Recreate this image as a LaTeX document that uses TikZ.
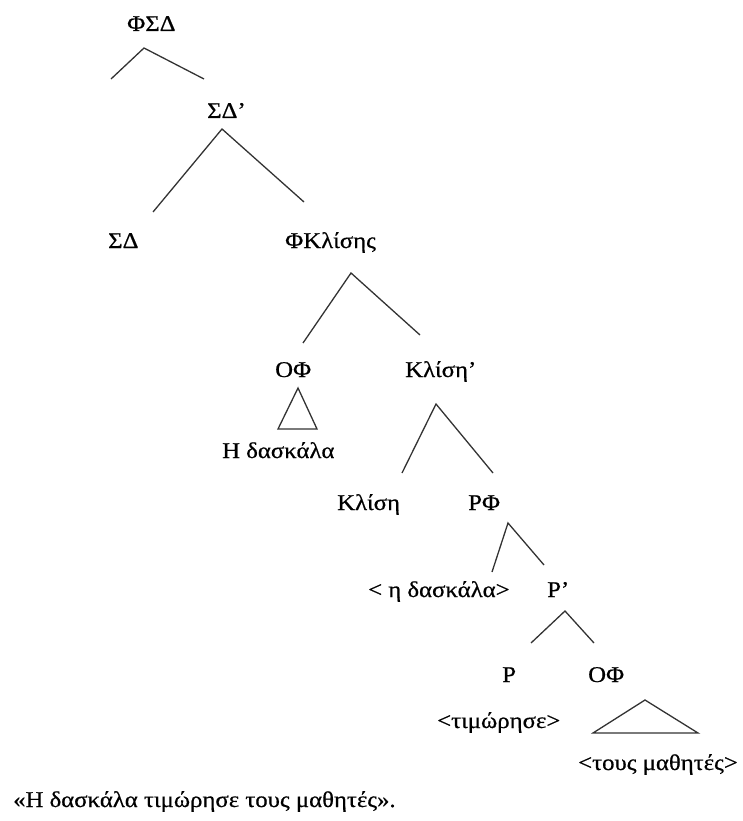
\documentclass[tikz,border=0pt]{standalone}
\usepackage{fontspec}
\setmainfont{Liberation Serif}[FakeStretch=1.1,FakeBold=0.6]
\begin{document}
\begin{tikzpicture}[x=1pt,y=-1pt,
  lbl/.style={anchor=base west,inner sep=0pt,font=\fontsize{22.5}{26}\selectfont},
  branch/.style={draw=black!80,line width=1.3pt,line join=miter}]
\useasboundingbox (0,0) rectangle (743,821);
% labels
\node[lbl] (fsd)    at (127,31)  {ΦΣΔ};
\node[lbl] (sdbar)  at (207,118) {ΣΔ’};
\node[lbl] (sd)     at (108,248) {ΣΔ};
\node[lbl] (fkl)    at (285,248) {ΦΚλίσης};
\node[lbl] (of1)    at (275,377) {ΟΦ};
\node[lbl] (klbar)  at (405,377) {Κλίση’};
\node[lbl] (hdask)  at (222,458) {Η δασκάλα};
\node[lbl] (kl)     at (337,510) {Κλίση};
\node[lbl] (rf)     at (468,510) {ΡΦ};
\node[lbl] (trace)  at (368,597) {< η δασκάλα>};
\node[lbl] (rbar)   at (547,597) {Ρ’};
\node[lbl] (r)      at (502,682) {Ρ};
\node[lbl] (of2)    at (588,682) {ΟΦ};
\node[lbl] (verb)   at (437,728) {<τιμώρησε>};
\node[lbl] (obj)    at (578,770) {<τους μαθητές>};
\node[lbl] (caption) at (13,807) {«Η δασκάλα τιμώρησε τους μαθητές».};
% branch points
\coordinate (b1)  at (144,48);  \coordinate (b1l) at (111,79);  \coordinate (b1r) at (204,79);
\coordinate (b2)  at (222,129); \coordinate (b2l) at (153,212); \coordinate (b2r) at (304,202);
\coordinate (b3)  at (351,273); \coordinate (b3l) at (303,343); \coordinate (b3r) at (420,335);
\coordinate (b4)  at (436,404); \coordinate (b4l) at (402,473); \coordinate (b4r) at (493,473);
\coordinate (b5)  at (508,523); \coordinate (b5l) at (492,572); \coordinate (b5r) at (544,565);
\coordinate (b6)  at (565,611); \coordinate (b6l) at (531,643); \coordinate (b6r) at (594,643);
% triangles
\coordinate (t1)  at (298,388); \coordinate (t1l) at (278,429); \coordinate (t1r) at (317,429);
\coordinate (t2)  at (645,700); \coordinate (t2l) at (593,733); \coordinate (t2r) at (698,733);
\foreach \b in {b1,b2,b3,b4,b5,b6}
  \draw[branch] (\b l) -- (\b) -- (\b r);
\draw[branch] (t1l) -- (t1) -- (t1r) -- cycle;
\draw[branch] (t2l) -- (t2) -- (t2r) -- cycle;
\end{tikzpicture}
\end{document}
